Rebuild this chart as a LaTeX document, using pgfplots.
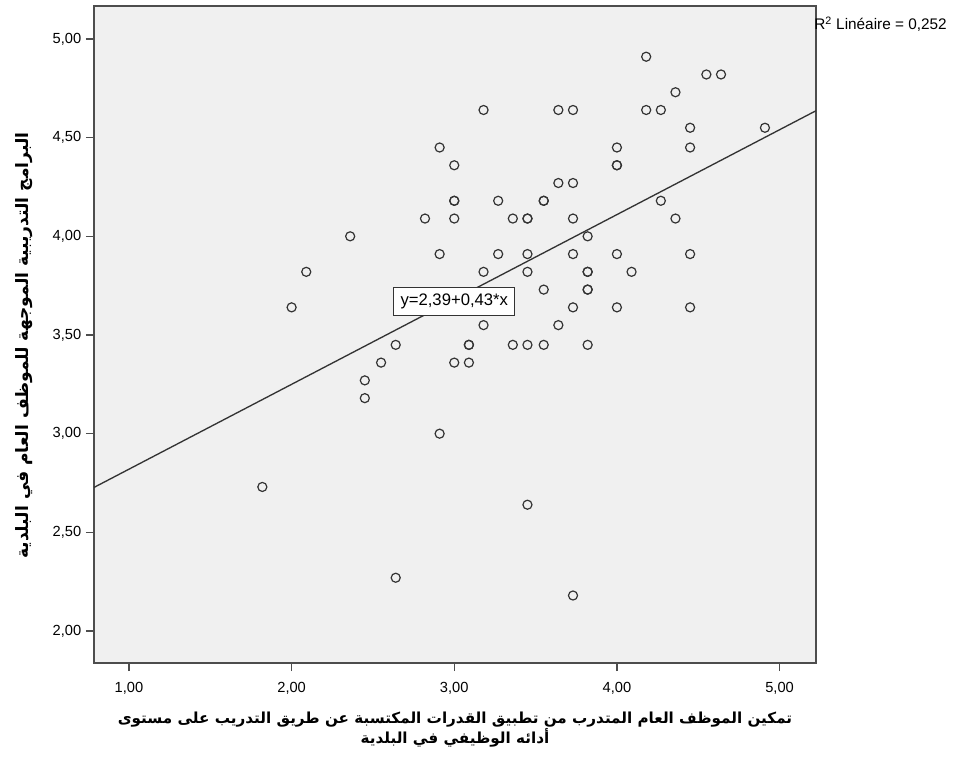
\documentclass[border=0pt]{standalone}
\usepackage{fontspec}
\setmainfont{Liberation Sans}
\newfontfamily\arabicfont[Script=Arabic]{DejaVu Sans}
\TeXXeTstate=1
\usepackage{pgfplots}
\usepackage{pgfplotstable}
\pgfplotsset{compat=1.18}
\definecolor{bg}{HTML}{F0F0F0}
\definecolor{framec}{HTML}{4D4D4D}
\definecolor{ptc}{HTML}{333333}

\pgfplotstableread{
x y
1.82 2.73
2.00 3.64
2.09 3.82
2.36 4.00
2.45 3.27
2.45 3.18
2.55 3.36
2.64 3.45
2.64 2.27
2.82 4.09
2.91 4.45
2.91 3.91
2.91 3.00
3.00 4.36
3.00 4.18
3.00 4.18
3.00 4.09
3.00 3.36
3.09 3.45
3.09 3.45
3.09 3.36
3.18 4.64
3.18 3.82
3.18 3.55
3.27 4.18
3.27 3.91
3.36 4.09
3.36 3.45
3.45 4.09
3.45 4.09
3.45 3.91
3.45 3.82
3.45 3.45
3.45 2.64
3.55 4.18
3.55 4.18
3.55 3.73
3.55 3.45
3.64 4.64
3.64 4.27
3.64 3.55
3.73 4.64
3.73 4.27
3.73 4.09
3.73 3.91
3.73 3.64
3.73 2.18
3.82 4.00
3.82 3.82
3.82 3.82
3.82 3.73
3.82 3.73
3.82 3.45
4.00 4.45
4.00 4.36
4.00 4.36
4.00 3.91
4.00 3.64
4.09 3.82
4.18 4.91
4.18 4.64
4.27 4.64
4.27 4.18
4.36 4.73
4.36 4.09
4.45 4.55
4.45 4.45
4.45 3.91
4.45 3.64
4.55 4.82
4.64 4.82
4.91 4.55
}\scatterdata

\pgfplotstableread{
x y
0.785 2.7276
5.224 4.6363
}\fitline

\begin{document}
\begin{tikzpicture}
\useasboundingbox (-70.5pt,-72.75pt) rectangle (651.75pt,497.25pt);
\begin{axis}[
  at={(0pt,0pt)}, anchor=south west,
  width=541.5pt, height=492.75pt, scale only axis,
  xmin=0.785, xmax=5.224, ymin=1.838, ymax=5.167,
  xtick={1,2,3,4,5},
  xticklabels={{1,00},{2,00},{3,00},{4,00},{5,00}},
  ytick={2,2.5,3,3.5,4,4.5,5},
  yticklabels={{2,00},{2,50},{3,00},{3,50},{4,00},{4,50},{5,00}},
  tick align=outside, xtick pos=bottom, ytick pos=left,
  major tick length=6pt,
  tick style={color=framec, line width=1pt},
  axis line style={color=framec, line width=1.3pt},
  axis background/.style={fill=bg},
  ticklabel style={font=\fontsize{11}{13}\selectfont, text=black},
  xticklabel style={yshift=-5pt},
  xlabel={\arabicfont\bfseries \beginR تمكين الموظف العام المتدرب من تطبيق القدرات المكتسبة عن طريق التدريب على مستوى\endR\\ \arabicfont\bfseries\beginR أدائه الوظيفي في البلدية\endR},
  xlabel style={at={(axis description cs:0.5,-0.102)}, anchor=center, align=center, font=\fontsize{11.4}{15}\selectfont},
  ylabel={\arabicfont\bfseries\beginR البرامج التدريبية الموجهة للموظف العام في البلدية\endR},
  ylabel style={at={(axis description cs:-0.097,0.483)}, anchor=center, font=\fontsize{12.8}{14}\selectfont},
  clip=true,
]
\addplot[color=ptc, line width=1pt] table[x=x,y=y]{\fitline};
\addplot[only marks, mark=o, mark size=3.4pt, mark options={line width=0.9pt, draw=ptc}] table[x=x,y=y]{\scatterdata};
\node[draw=ptc, fill=white, line width=0.8pt, inner xsep=5pt, minimum height=21pt, font=\fontsize{12.5}{14}\selectfont] at (axis cs:3.0,3.67) {y=2,39+0,43*x};
\end{axis}
\node[anchor=west, inner sep=0pt, font=\fontsize{11.5}{13}\selectfont] at (540pt,479pt) {R\textsuperscript{2} Linéaire = 0,252};
\end{tikzpicture}
\end{document}
